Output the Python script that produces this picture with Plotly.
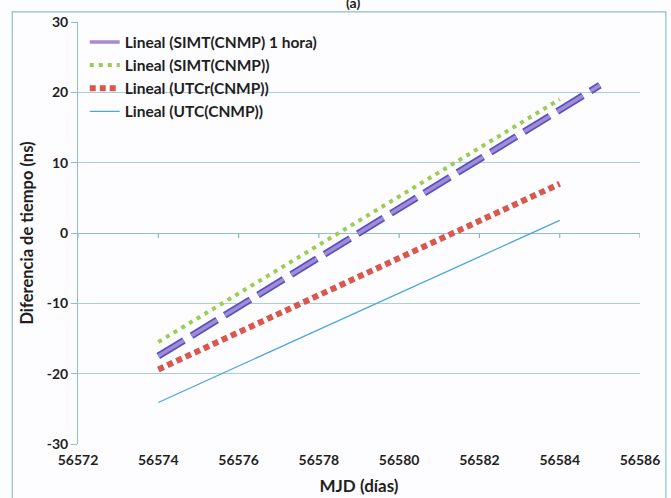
import plotly.graph_objects as go

# Data
series_names = ["Lineal (SIMT(CNMP) 1 hora)", "Lineal (SIMT(CNMP))", "Lineal (UTCr(CNMP))", "Lineal (UTC(CNMP))"]
simt1h_x = [56574, 56585]
simt1h_y = [-17.5, 21.0]
simt_x = [56574, 56584]
simt_y = [-15.5, 19.0]
utcr_x = [56574, 56584]
utcr_y = [-19.4, 7.0]
utc_x = [56574, 56584]
utc_y = [-24.1, 1.8]

x_ticks = [56572, 56574, 56576, 56578, 56580, 56582, 56584, 56586]
y_ticks = [-30, -20, -10, 0, 10, 20, 30]
x_ticktext = [str(v) for v in x_ticks]
y_ticktext = [str(v) for v in y_ticks]

FONT = "Lato"
TXT = "#1f1f1f"
AXC = "#8fbcd8"

fig = go.Figure()

# purple long-dash line with blue outline
fig.add_trace(go.Scatter(x=simt1h_x, y=simt1h_y, mode="lines", showlegend=False,
                         legendgroup="a", hoverinfo="skip",
                         line=dict(color="#4f55c8", width=7, dash="30px,9px")))
fig.add_trace(go.Scatter(x=simt1h_x, y=simt1h_y, mode="lines", name=series_names[0],
                         legendgroup="a",
                         line=dict(color="#a88ad0", width=3.5, dash="30px,9px")))
fig.add_trace(go.Scatter(x=simt_x, y=simt_y, mode="lines", name=series_names[1],
                         line=dict(color="#9acd50", width=4, dash="4px,5px")))
fig.add_trace(go.Scatter(x=utcr_x, y=utcr_y, mode="lines", name=series_names[2],
                         line=dict(color="#d9574c", width=6, dash="6px,4px")))
fig.add_trace(go.Scatter(x=utc_x, y=utc_y, mode="lines", name=series_names[3],
                         line=dict(color="#4aa6e2", width=1.3)))

# tick marks on the horizontal axis line (crossing at y=0)
tick_shapes = [dict(type="line", xref="x", yref="y", x0=v, x1=v,
                    ysizemode="pixel", yanchor=0, y0=0, y1=-5,
                    line=dict(color="#86b5d4", width=1.2), layer="above")
               for v in x_ticks]
frame = dict(type="rect", xref="paper", yref="paper", x0=-0.117, x1=1.046, y0=-0.16, y1=1.024,
             line=dict(color="#8fbcd8", width=1.2), fillcolor="rgba(0,0,0,0)", layer="below")

fig.update_layout(
    width=671, height=498,
    margin=dict(l=78, r=31, t=22, b=54, autoexpand=False),
    paper_bgcolor="#fdfcfe",
    plot_bgcolor="#fdfcfe",
    font=dict(family=FONT, size=14, color=TXT),
    showlegend=True,
    legend=dict(x=0.012, y=0.992, xanchor="left", yanchor="top",
                bgcolor="rgba(0,0,0,0)", borderwidth=0,
                font=dict(family=FONT, size=15.5, color=TXT, weight="bold"),
                tracegroupgap=0, itemwidth=30),
    xaxis=dict(range=[x_ticks[0], x_ticks[-1]], tickvals=x_ticks, ticktext=x_ticktext,
               showgrid=False, zeroline=False, showline=False, ticks="",
               automargin=False, ticklabelstandoff=6,
               tickfont=dict(family=FONT, size=14, color=TXT, weight="bold"),
               title=dict(text="MJD (días)", standoff=13,
                          font=dict(family=FONT, size=17, color=TXT, weight="bold"))),
    yaxis=dict(range=[y_ticks[0], y_ticks[-1]], tickvals=y_ticks, ticktext=y_ticktext,
               showgrid=True, gridcolor="#a9cde3", gridwidth=1,
               zeroline=True, zerolinecolor=AXC, zerolinewidth=1.4,
               showline=True, linecolor=AXC, linewidth=1,
               ticks="outside", ticklen=6, tickcolor=AXC,
               automargin=False,
               tickfont=dict(family=FONT, size=14, color=TXT, weight="bold"),
               title=dict(text="Diferencia de tiempo (ns)", standoff=8,
                          font=dict(family=FONT, size=16.5, color=TXT, weight="bold"))),
    shapes=[frame] + tick_shapes,
    annotations=[dict(text="(a)", xref="paper", yref="paper", x=0.49, y=1.072,
                      showarrow=False, font=dict(family=FONT, size=14, color=TXT, weight="bold"))],
)

fig.write_html("out.html", config={"displayModeBar": False},
               post_script="document.body.style.margin='0';document.body.style.padding='0';")
